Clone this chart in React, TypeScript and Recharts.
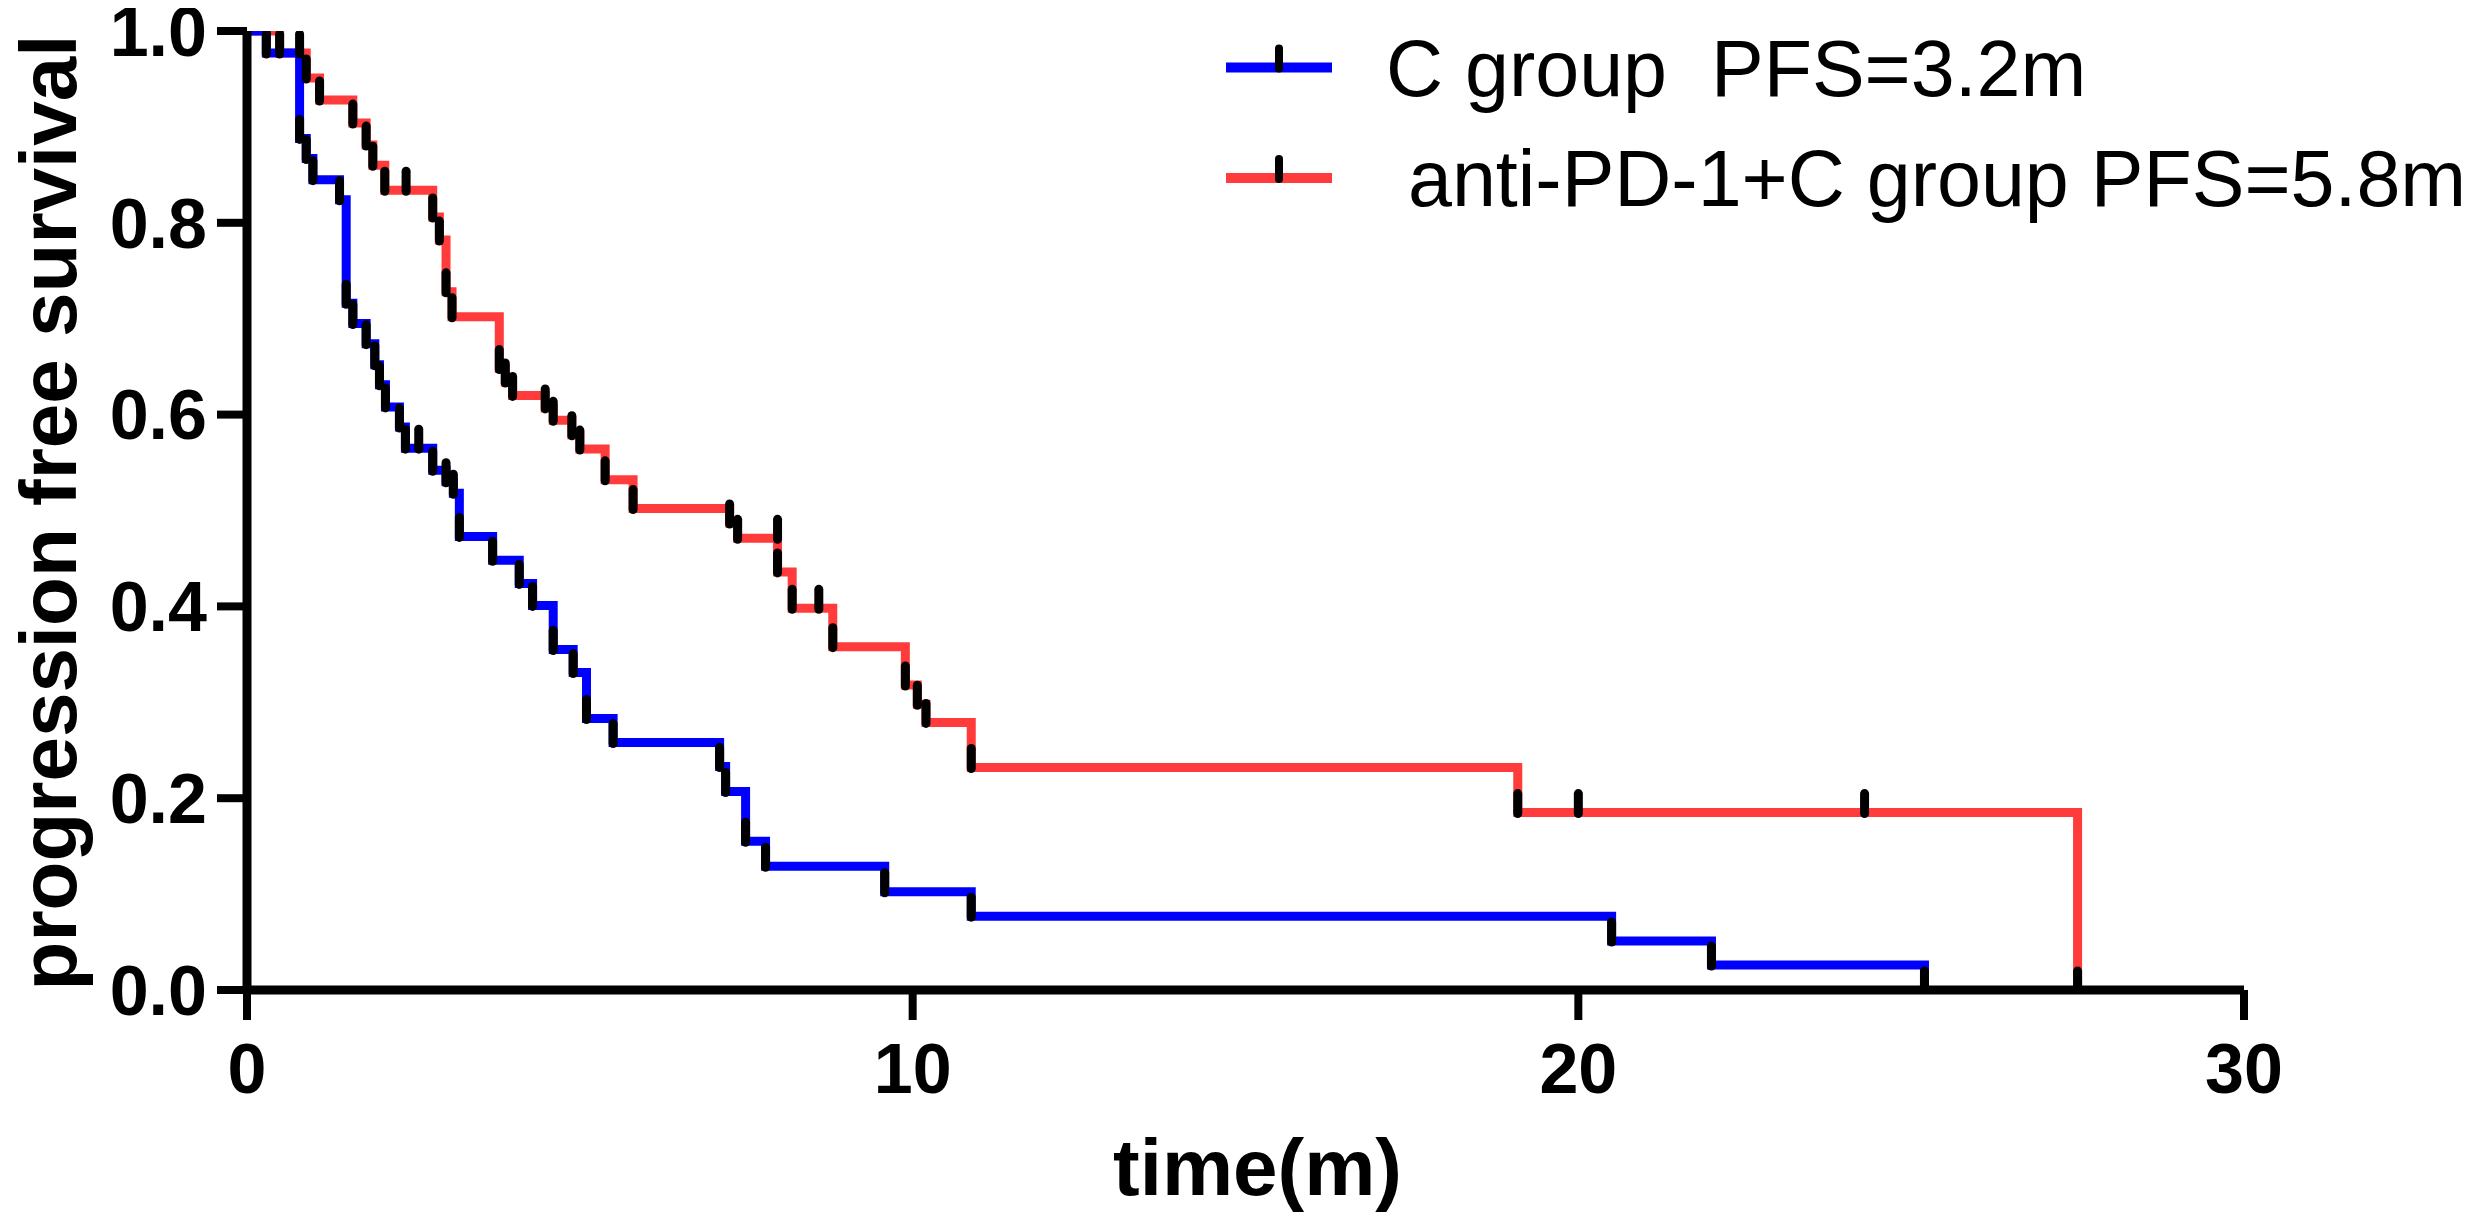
import React from "react";
import { ComposedChart, Line, Scatter, XAxis, YAxis } from "recharts";

// ---- data ----
const xTicks = [0, 10, 20, 30];
const yTicks = [0, 0.2, 0.4, 0.6, 0.8, 1.0];

const seriesNames = ["C group  PFS=3.2m", " anti-PD-1+C group PFS=5.8m"];
const seriesColors = ["#0000FF", "#FF3B3B"];

// C group (blue) step curve
const blueTimes = [0, 0.29, 0.79, 0.89, 0.99, 1.39, 1.49, 1.59, 1.79, 1.92, 1.99, 2.08, 2.29, 2.38, 2.79, 2.99, 3.1, 3.19, 3.69, 4.09, 4.29, 4.6, 4.9, 5.1, 5.5, 7.1, 7.19, 7.49, 7.79, 9.58, 10.88, 20.5, 22.0, 25.2];
const blueSurv = [1.0, 0.977, 0.888, 0.867, 0.845, 0.824, 0.716, 0.695, 0.674, 0.652, 0.631, 0.608, 0.587, 0.565, 0.542, 0.53, 0.518, 0.473, 0.448, 0.424, 0.401, 0.355, 0.331, 0.283, 0.258, 0.233, 0.207, 0.155, 0.129, 0.1025, 0.077, 0.051, 0.026, 0];
const blueCensorTimes = [0.79, 2.58];
const blueCensorSurv = [0.977, 0.565];

// anti-PD-1 + C group (red) step curve
const redTimes = [0, 0.49, 0.89, 1.09, 1.59, 1.79, 1.89, 2.07, 2.79, 2.89, 2.99, 3.08, 3.79, 3.88, 3.99, 4.48, 4.6, 4.88, 5.0, 5.38, 5.8, 7.25, 7.37, 7.97, 8.19, 8.8, 9.89, 10.07, 10.2, 10.88, 19.09, 27.5];
const redSurv = [1.0, 0.977, 0.951, 0.928, 0.904, 0.881, 0.86, 0.834, 0.806, 0.782, 0.728, 0.702, 0.648, 0.634, 0.62, 0.607, 0.594, 0.579, 0.564, 0.532, 0.502, 0.487, 0.471, 0.436, 0.398, 0.358, 0.318, 0.298, 0.279, 0.232, 0.185, 0];
const redCensorTimes = [2.39, 7.97, 8.59, 20.0, 24.3];
const redCensorSurv = [0.834, 0.471, 0.398, 0.185, 0.185];

// ---- build library data ----
const toPoints = (ts: number[], ss: number[]) => ts.map((t, i) => ({ t, s: ss[i] }));
const blueData = toPoints(blueTimes, blueSurv);
const redData = toPoints(redTimes, redSurv);
const markData = [
  ...blueData.slice(1),
  ...toPoints(blueCensorTimes, blueCensorSurv),
  ...redData.slice(1),
  ...toPoints(redCensorTimes, redCensorSurv),
];

// ---- layout / style ----
const FONT = '"Liberation Sans", Arial, Helvetica, sans-serif';
const W = 2480;
const H = 1221;

const TickMark = (props: any) => {
  const { cx, cy } = props;
  if (cx == null || cy == null) return null;
  return (
    <line x1={cx} x2={cx} y1={cy - 19} y2={cy + 1} stroke="#000" strokeWidth={9} strokeLinecap="round" />
  );
};

const XLabel = (props: any) => {
  const vb = props.viewBox || { x: 247, y: 990, width: 1997, height: 150 };
  return (
    <text x={vb.x + vb.width / 2 + 12} y={vb.y + 205} textAnchor="middle" fontFamily={FONT} fontWeight="bold" fontSize={80} fill="#000">
      time(m)
    </text>
  );
};

const YLabel = (props: any) => {
  const vb = props.viewBox || { x: 0, y: 31, width: 247, height: 959 };
  const x = 76;
  const y = vb.y + vb.height / 2 + 2;
  return (
    <text x={x} y={y} transform={`rotate(-90, ${x}, ${y})`} textAnchor="middle" fontFamily={FONT} fontWeight="bold" fontSize={80} fill="#000">
      progression free survival
    </text>
  );
};

const LegendOverlay = () => {
  const rows = [67.5, 178];
  return (
    <svg width={W} height={H} style={{ position: "absolute", left: 0, top: 0, pointerEvents: "none" }}>
      {seriesNames.map((name, i) => (
        <g key={name}>
          <line x1={1226} x2={1332} y1={rows[i]} y2={rows[i]} stroke={seriesColors[i]} strokeWidth={10} />
          <line x1={1279} x2={1279} y1={rows[i] - 19} y2={rows[i] + 1} stroke="#000" strokeWidth={8} strokeLinecap="round" />
          <text x={1386} y={rows[i] + 28} fontFamily={FONT} fontSize={79} fill="#000" style={{ whiteSpace: "pre" }}>
            {name}
          </text>
        </g>
      ))}
    </svg>
  );
};

export default function App() {
  return (
    <div style={{ position: "relative", width: W, height: H, marginLeft: -8, marginTop: -8, background: "#fff" }}>
      <ComposedChart width={W} height={H} margin={{ top: 31, right: 236, bottom: 81, left: 0 }}>
        <XAxis
          type="number"
          dataKey="t"
          domain={[0, 30]}
          ticks={xTicks}
          interval={0}
          allowDataOverflow
          height={150}
          tickSize={30}
          tickMargin={23}
          axisLine={{ stroke: "#000", strokeWidth: 9 }}
          tickLine={{ stroke: "#000", strokeWidth: 8 }}
          tick={{ fill: "#000", fontSize: 70, fontWeight: "bold", fontFamily: FONT }}
          label={<XLabel />}
        />
        <YAxis
          type="number"
          dataKey="s"
          domain={[0, 1]}
          ticks={yTicks}
          interval={0}
          allowDataOverflow
          width={247}
          tickSize={30}
          tickMargin={10}
          tickFormatter={(v: number) => v.toFixed(1)}
          axisLine={{ stroke: "#000", strokeWidth: 9 }}
          tickLine={{ stroke: "#000", strokeWidth: 8 }}
          tick={{ fill: "#000", fontSize: 70, fontWeight: "bold", fontFamily: FONT }}
          label={<YLabel />}
        />
        <Line data={redData} dataKey="s" type="stepAfter" stroke={seriesColors[1]} strokeWidth={9} dot={false} activeDot={false} isAnimationActive={false} />
        <Line data={blueData} dataKey="s" type="stepAfter" stroke={seriesColors[0]} strokeWidth={9} dot={false} activeDot={false} isAnimationActive={false} />
        <Scatter data={markData} dataKey="s" shape={<TickMark />} isAnimationActive={false} />
      </ComposedChart>
      <LegendOverlay />
    </div>
  );
}
